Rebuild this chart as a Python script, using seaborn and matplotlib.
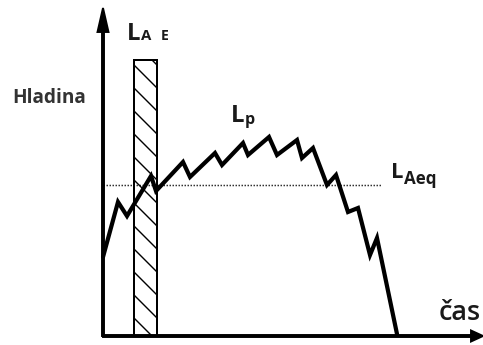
import matplotlib
matplotlib.use("Agg")
import matplotlib.pyplot as plt
import seaborn as sns
import pandas as pd

# Sound level over time (arbitrary units)
time = [0, 15, 24, 48, 53, 80, 87, 112, 119, 140, 145, 166, 174, 194, 199,
        210, 224, 233, 245, 255, 267, 274, 294]
level = [79, 134, 120, 160, 145, 174, 159, 183, 171, 193, 181, 199, 181, 196,
         178, 188, 151, 161, 124, 128, 81, 98, 2]

laeq_level = 151      # equivalent level (dotted line)
laeq_end = 279
sel_start, sel_end = 31, 54   # hatched L_AE block
sel_height = 276

X_MAX, Y_MAX = 380, 328

W, H, DPI = 483, 345, 138
PT = 72 / DPI  # pixels -> points

sns.set_theme(style="white")
plt.rcParams["font.family"] = ["Open Sans", "DejaVu Sans"]
plt.rcParams["hatch.linewidth"] = 1.4 * PT
plt.rcParams["hatch.color"] = "black"

fig = plt.figure(figsize=(W / DPI, H / DPI), dpi=DPI)
ax = fig.add_axes([103 / W, (H - 336) / H, (W - 103) / W, 328 / H])
ax.set_xlim(0, X_MAX)
ax.set_ylim(0, Y_MAX)
ax.axis("off")

ax.bar((sel_start + sel_end) / 2, sel_height, width=sel_end - sel_start,
       bottom=0, fill=False, edgecolor="black", linewidth=2 * PT,
       hatch="\\\\", zorder=2)

ax.hlines(laeq_level, 0, laeq_end, colors="#333333", linewidth=1.5 * PT,
          linestyles=(0, (1, 1)), zorder=1)

df = pd.DataFrame({"t": time, "L": level})
sns.lineplot(data=df, x="t", y="L", ax=ax, color="black", linewidth=4.2 * PT,
             sort=False, legend=False, clip_on=False, zorder=3)
ax.lines[-1].set_solid_joinstyle("miter")

# axes with arrows
ax.arrow(0, 0, 0, Y_MAX, width=2, head_width=11, head_length=24,
         length_includes_head=True, color="black", clip_on=False, zorder=4)
ax.arrow(0, 0, X_MAX, 0, width=2, head_width=11, head_length=12,
         length_includes_head=True, color="black", clip_on=False, zorder=4)


def label(x, y, s, size_px, weight="bold", color="#1a1a1a"):
    fig.text(x / W, 1 - y / H, s, fontsize=size_px * PT, fontweight=weight,
             color=color, ha="left", va="baseline")


label(12, 103, "Hladina", 19, color="#333333")
label(127, 40, "L", 24)
label(141, 40, "A", 15)
label(161, 40, "E", 14)
label(231, 122, "L", 24)
label(245, 124, "p", 16)
label(391, 178, "L", 22)
label(404, 184, "Aeq", 17)
label(439, 320, "čas", 27, weight="semibold")

fig.savefig("out.png", dpi=DPI)
